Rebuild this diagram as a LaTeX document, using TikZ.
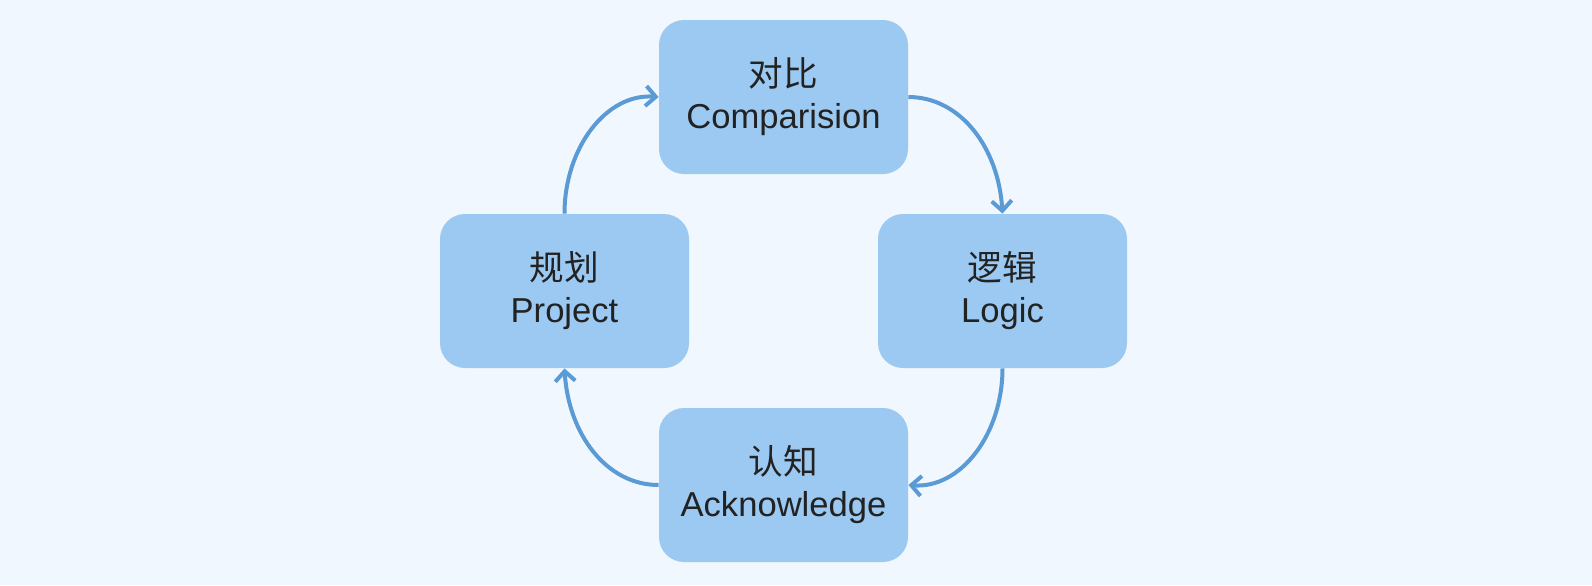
\documentclass[tikz,border=0pt]{standalone}
\usepackage{fontspec}
\setmainfont{Liberation Sans}
\newfontfamily\cjk{Noto Sans CJK SC}
\usetikzlibrary{arrows.meta}
\definecolor{bgc}{HTML}{F1F7FE}
\definecolor{boxc}{HTML}{9CC9F2}
\definecolor{arrc}{HTML}{5B9BD5}
\definecolor{txtc}{HTML}{222222}
\begin{document}
\begin{tikzpicture}[x=0.5pt,y=-0.5pt,
  box/.style={fill=boxc, rounded corners=12.5pt, minimum width=124.5pt, minimum height=77pt,
    align=center, font=\fontsize{17.3}{21}\selectfont, text=txtc, inner sep=0pt},
  conn/.style={draw=arrc, line width=2pt, -{Straight Barb[length=5pt,width=10pt]}}]
\fill[bgc] (0,0) rectangle (1592,585);
\useasboundingbox (0,0) rectangle (1592,585);
\node[box] (top) at (783.5,97) {{\cjk 对比}\\Comparision};
\node[box] (left) at (564.5,291) {{\cjk 规划}\\Project};
\node[box] (right) at (1002.5,291) {{\cjk 逻辑}\\Logic};
\node[box] (bot) at (783.5,485) {{\cjk 认知}\\Acknowledge};
\draw[conn] (left.north) .. controls ++(0,-66) and ++(-52,-4) .. (top.west);
\draw[conn] (top.east) .. controls ++(52,0) and ++(-4,-66) .. (right.north);
\draw[conn] (right.south) .. controls ++(0,66) and ++(52,4) .. (bot.east);
\draw[conn] (bot.west) .. controls ++(-52,0) and ++(4,66) .. (left.south);
\end{tikzpicture}
\end{document}
